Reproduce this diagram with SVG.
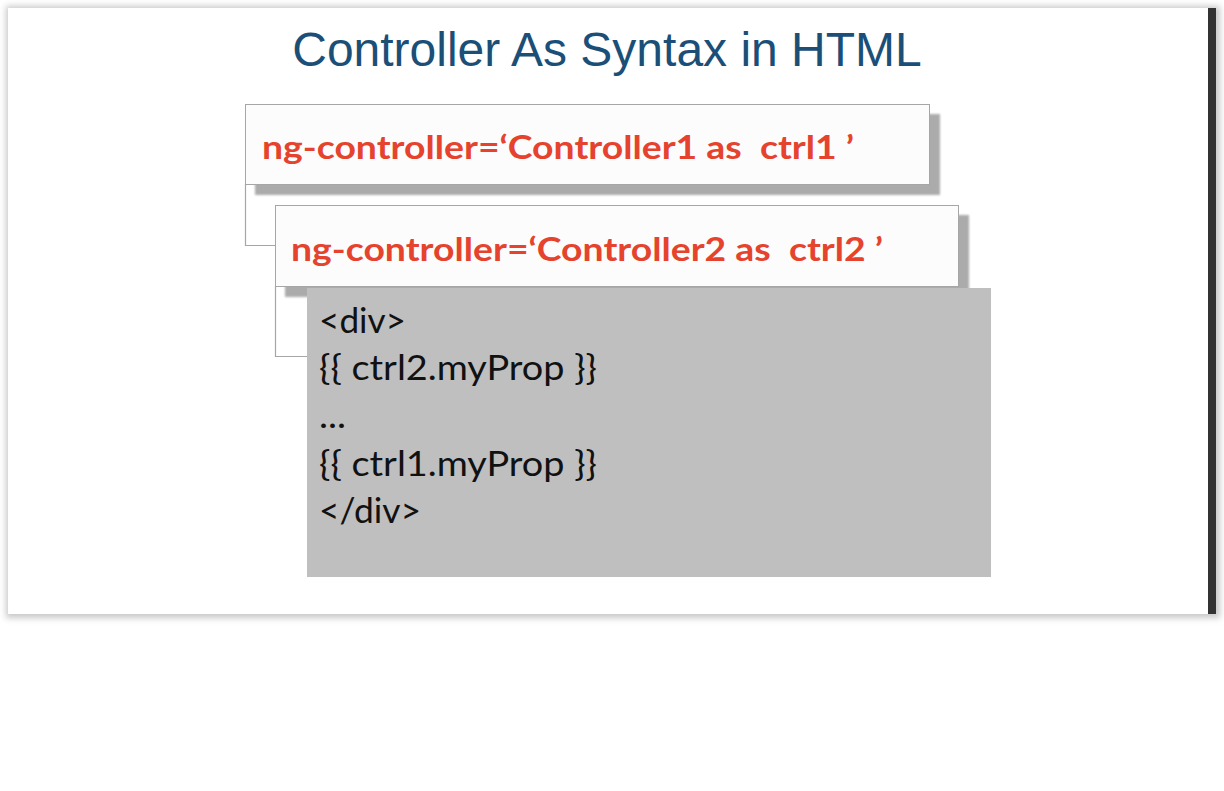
<svg xmlns="http://www.w3.org/2000/svg" width="1224" height="791" viewBox="0 0 1224 791">
  <defs>
    <filter id="soft" x="-5%" y="-5%" width="110%" height="110%">
      <feGaussianBlur stdDeviation="3"/>
    </filter>
    <filter id="blur1" x="-5%" y="-20%" width="110%" height="140%">
      <feGaussianBlur stdDeviation="1.2"/>
    </filter>
  </defs>
  <style>
    .title { font-family: "Liberation Sans", Arial, sans-serif; font-size: 48px; fill: #1b4f78; }
    .red { font-family: Lato, "Open Sans", sans-serif; font-weight: bold; font-size: 33px; fill: #e5432d; white-space: pre; }
    .code { font-family: Lato, "Open Sans", sans-serif; font-size: 34px; fill: #111111; }
    .box { fill: #fcfcfc; stroke: #a6a6a6; stroke-width: 1; }
    .shadow { fill: #ababab; }
    .conn { fill: none; stroke: #a6a6a6; stroke-width: 1.2; }
  </style>
  <rect x="0" y="0" width="1224" height="791" fill="#ffffff"/>
  <g id="slide">
    <rect x="6" y="6" width="1214" height="612" fill="#c8c8c8" filter="url(#soft)"/>
    <rect x="8" y="8" width="1200" height="606" fill="#ffffff"/>
    <rect x="1208" y="8" width="8" height="606" fill="#333333"/>
  </g>
  <g id="title">
    <text class="title" x="607" y="66" text-anchor="middle">Controller As Syntax in HTML</text>
  </g>
  <g id="connectors">
    <path class="conn" d="M245.5,184 V245.5 H275"/>
    <path class="conn" d="M275.5,286 V356.5 H307"/>
  </g>
  <g id="ctrl1-box">
    <rect class="shadow" x="255" y="114" width="685" height="81" filter="url(#blur1)"/>
    <rect class="box" x="245.5" y="104.5" width="684" height="80"/>
    <text class="red" x="262" y="159" textLength="592" lengthAdjust="spacingAndGlyphs" xml:space="preserve">ng-controller=‘Controller1 as  ctrl1 ’</text>
  </g>
  <g id="ctrl2-box">
    <rect class="shadow" x="285" y="215" width="684" height="82" filter="url(#blur1)"/>
    <rect class="box" x="275.5" y="205.5" width="683" height="81"/>
    <text class="red" x="291" y="261" textLength="592" lengthAdjust="spacingAndGlyphs" xml:space="preserve">ng-controller=‘Controller2 as  ctrl2 ’</text>
  </g>
  <g id="code-box">
    <rect x="307" y="288" width="684" height="289" fill="#bfbfbf"/>
    <text class="code" x="319" y="333" textLength="87" lengthAdjust="spacingAndGlyphs">&lt;div&gt;</text>
    <text class="code" x="319" y="380" textLength="278" lengthAdjust="spacingAndGlyphs">{{ ctrl2.myProp }}</text>
    <text class="code" x="319" y="428" textLength="27" lengthAdjust="spacingAndGlyphs">...</text>
    <text class="code" x="319" y="476" textLength="278" lengthAdjust="spacingAndGlyphs">{{ ctrl1.myProp }}</text>
    <text class="code" x="319" y="523" textLength="102" lengthAdjust="spacingAndGlyphs">&lt;/div&gt;</text>
  </g>
</svg>
